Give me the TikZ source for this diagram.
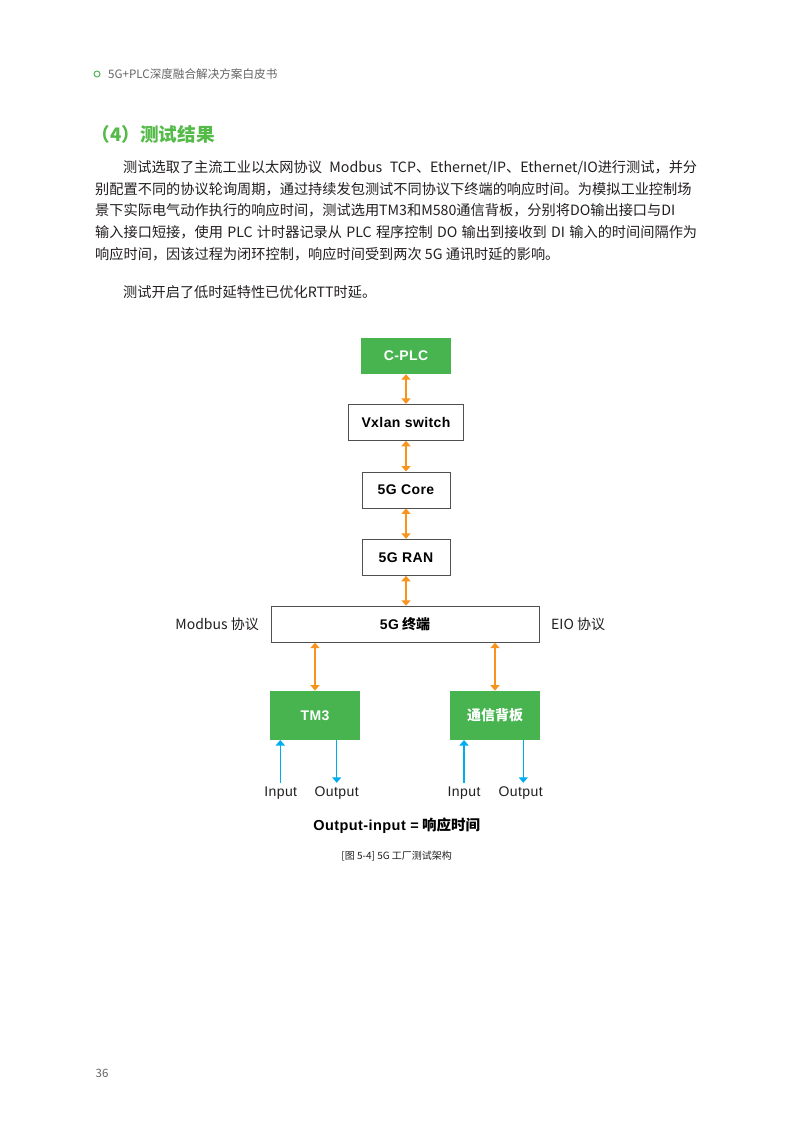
\documentclass[tikz,border=0pt]{standalone}
\usepackage{fontspec}
\setmainfont{Noto Sans CJK SC}
\newfontfamily\arialf[LetterSpace=3]{Liberation Sans}
\usetikzlibrary{arrows.meta}
\XeTeXlinebreaklocale "zh"
\XeTeXlinebreakskip=0pt plus 2pt minus 0.3pt
\definecolor{pgreen}{RGB}{72,180,80}
\definecolor{tgreen}{RGB}{84,186,72}
\definecolor{porange}{RGB}{247,148,29}
\definecolor{pblue}{RGB}{0,174,239}
\definecolor{pborder}{RGB}{80,80,80}
\definecolor{ptext}{RGB}{35,31,32}
\definecolor{pgray}{RGB}{100,100,100}
\begin{document}
\begin{tikzpicture}[x=1pt,y=-1pt,
  box/.style={draw=pborder,line width=0.9pt,fill=white,inner sep=0,minimum width=#1,minimum height=36pt,font=\arialf\bfseries\fontsize{14}{16}\selectfont,text=black},
  gbox/.style={fill=pgreen,draw=none,inner sep=0,minimum width=90pt,minimum height=#1,text=white,font=\arialf\bfseries\fontsize{14}{16}\selectfont},
  para/.style={anchor=base west,inner sep=0,text=ptext,font=\fontsize{14.2}{16}\selectfont},
  lbl/.style={inner sep=0,text=ptext,font=\fontsize{14}{16}\selectfont},
  io/.style={inner sep=0,text=ptext,font=\arialf\fontsize{14}{16}\selectfont},
  oarrow/.style={draw=porange,line width=1.4pt,{Triangle[width=9pt,length=5.5pt]}-{Triangle[width=9pt,length=5.5pt]}},
  barrow/.style={draw=pblue,line width=1.3pt,-{Triangle[width=9pt,length=5.5pt]}}
]
\useasboundingbox (0,0) rectangle (793,1122);
\fill[white] (0,0) rectangle (793,1122);
% header
\node[circle,draw=pgreen,line width=0.9pt,minimum size=6pt,inner sep=0] (hdot) at (97,74) {};
\node[anchor=base west,inner sep=0,text=pgray,font=\fontsize{11.6}{12}\selectfont] (header) at (108,78.2) {5G+PLC深度融合解决方案白皮书};
% title
\node[anchor=base west,inner sep=0,text=tgreen,font=\bfseries\fontsize{18.6}{20}\selectfont] (title) at (91.5,141) {（4）测试结果};
% paragraph
\node[para] (p1) at (123,172.3) {\hbox to 574pt{测试选取了主流工业以太网协议 Modbus TCP、Ethernet/IP、Ethernet/IO进行测试，并分}};
\node[para] (p2) at (95,194.1) {\hbox to 602pt{别配置不同的协议轮询周期，通过持续发包测试不同协议下终端的响应时间。为模拟工业控制场}};
\node[para] (p3) at (95,215.9) {\hbox to 602pt{景下实际电气动作执行的响应时间，测试选用TM3和M580通信背板，分别将DO输出接口与DI}};
\node[para] (p4) at (95,237.7) {\hbox to 602pt{输入接口短接，使用 PLC 计时器记录从 PLC 程序控制 DO 输出到接收到 DI 输入的时间间隔作为}};
\node[para] (p5) at (95,259.5) {响应时间，因该过程为闭环控制，响应时间受到两次 5G 通讯时延的影响。};
\node[para] (p6) at (123,297.3) {测试开启了低时延特性已优化RTT时延。};
% diagram boxes
\node[gbox=36pt] (cplc) at (406,356) {C-PLC};
\node[box=115pt] (vxlan) at (406,422.3) {Vxlan switch};
\node[box=88pt] (core) at (406,490) {5G Core};
\node[box=88pt] (ran) at (406,557.3) {5G RAN};
\node[box=268pt,font=\bfseries\fontsize{14}{16}\selectfont] (term) at (405,624.2) {{\arialf 5G} 终端};
\node[lbl,anchor=east] (modbus) at (259,624.2) {Modbus 协议};
\node[lbl,anchor=west] (eio) at (551,624.2) {EIO 协议};
\node[gbox=49pt] (tm3) at (315,715.3) {TM3};
\node[gbox=49pt] (board) at (495,715.3) {{\rmfamily\bfseries 通信背板}};
% orange links
\draw[oarrow] (cplc.south) -- (vxlan.north);
\draw[oarrow] (vxlan.south) -- (core.north);
\draw[oarrow] (core.south) -- (ran.north);
\draw[oarrow] (ran.south) -- (ran.south |- term.north);
\draw[oarrow] (tm3.north |- term.south) -- (tm3.north);
\draw[oarrow] (board.north |- term.south) -- (board.north);
% blue io
\coordinate (in1) at (280.3,783);
\coordinate (out1) at (336.7,739.8);
\coordinate (in2) at (464,783);
\coordinate (out2) at (523.3,739.8);
\draw[barrow] (in1) -- (in1 |- tm3.south);
\draw[barrow] (out1) -- ++(0,43);
\draw[barrow] (in2) -- (in2 |- board.south);
\draw[barrow] (out2) -- ++(0,43);
\node[io] (lin1) at (280.7,793) {Input};
\node[io] (lout1) at (336.7,793) {Output};
\node[io] (lin2) at (464,793) {Input};
\node[io] (lout2) at (520.7,793) {Output};
\node[inner sep=0,text=black,font=\bfseries\fontsize{14.5}{16}\selectfont] (formula) at (396.7,825.7) {{\arialf Output-input =} 响应时间};
\node[inner sep=0,text=ptext,font=\fontsize{10}{11}\selectfont] (caption) at (396.7,856) {[图 5-4] 5G 工厂测试架构};
% page number
\node[inner sep=0,text=pgray,font=\fontsize{11.5}{12}\selectfont] (pnum) at (102,1073) {36};
\end{tikzpicture}
\end{document}
